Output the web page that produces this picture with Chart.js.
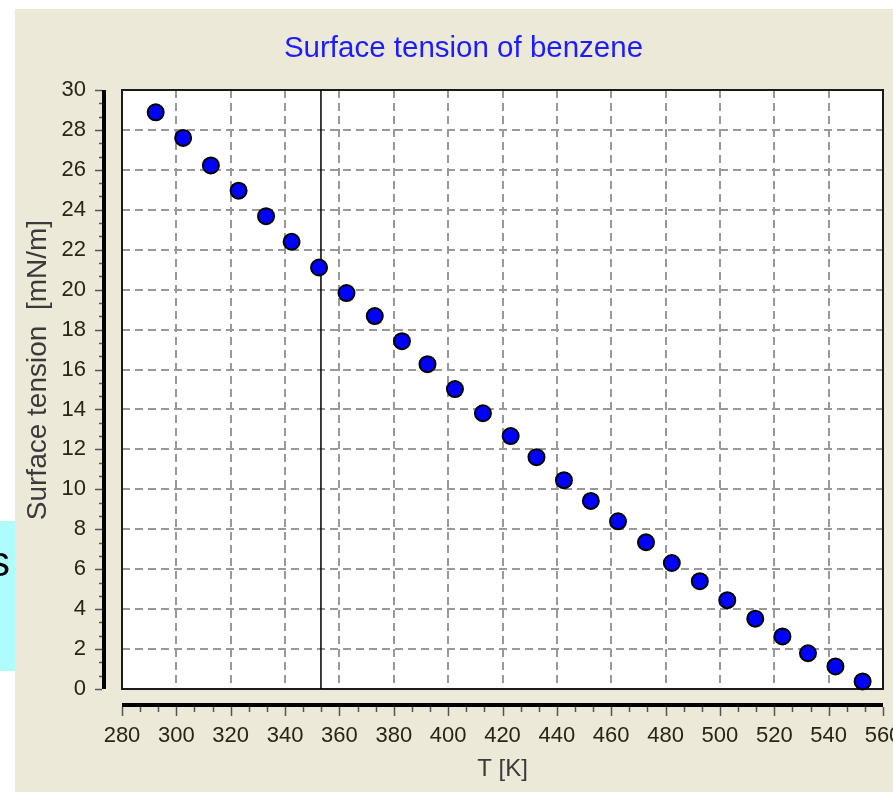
<!DOCTYPE html>
<html lang="en">
<head>
    <meta charset="UTF-8">
    <title>Surface tension of benzene</title>
    <script src="https://cdn.jsdelivr.net/npm/chart.js"></script>
    <style>
        html, body { margin: 0; padding: 0; background: #fff; }
        #chart { display: block; width: 893px; height: 792px; }
    </style>
</head>
<body>
<canvas id="chart" width="893" height="792"></canvas>
<script>
    // values
    const tempK = [292.4, 302.5, 312.7, 322.9, 333.0, 342.4, 352.5, 362.6, 373.0, 383.0, 392.4, 402.5, 412.8, 423.0,
                   432.5, 442.6, 452.5, 462.5, 472.8, 482.3, 492.6, 502.7, 513.0, 523.0, 532.4, 542.5, 552.5];
    const tension = [28.88, 27.60, 26.22, 24.96, 23.68, 22.40, 21.11, 19.83, 18.68, 17.42, 16.27, 15.02, 13.81, 12.67,
                     11.61, 10.46, 9.42, 8.40, 7.35, 6.31, 5.40, 4.45, 3.52, 2.63, 1.79, 1.13, 0.38];
    const boilT = [353.2, 353.2];
    const boilY = [0, 30];
    const xTicks = [280, 560, 20];   // min, max, step
    const yTicks = [0, 30, 2];

    const tickFont = { family: '"Liberation Sans", Arial, sans-serif', size: 22 };

    // frame, separate axis bars with minor ticks, title
    const decor = {
        id: 'decor',
        beforeDraw(chart) {
            const ctx = chart.ctx, a = chart.chartArea;
            ctx.save();
            ctx.fillStyle = '#ffffff';
            ctx.fillRect(0, 0, chart.width, chart.height);
            ctx.fillStyle = '#ece9d8';
            ctx.fillRect(15, 9, chart.width - 15, chart.height - 9);
            ctx.fillStyle = '#aefcfc';
            ctx.fillRect(0, 521, 15, 150);
            ctx.fillStyle = '#000';
            ctx.font = '42px "Liberation Sans", Arial, sans-serif';
            ctx.fillText('s', -11, 576);
            ctx.fillStyle = '#ffffff';
            ctx.fillRect(a.left, a.top, a.right - a.left, a.bottom - a.top);
            ctx.restore();
        },
        beforeDatasetsDraw(chart) {
            const ctx = chart.ctx, a = chart.chartArea;
            ctx.save();
            ctx.strokeStyle = '#1a1a1a';
            ctx.lineWidth = 2;
            ctx.strokeRect(a.left, a.top, a.right - a.left, a.bottom - a.top);
            ctx.restore();
        },
        afterDraw(chart) {
            const ctx = chart.ctx, a = chart.chartArea;
            const xs = chart.scales.x, ys = chart.scales.y;
            ctx.save();
            // y axis bar
            ctx.fillStyle = '#000';
            ctx.fillRect(102, a.top, 4, a.bottom - a.top);
            ctx.strokeStyle = '#555';
            ctx.lineWidth = 1.5;
            for (let v = yTicks[0]; v <= yTicks[1] + 1e-6; v += yTicks[2] / 3) {
                const y = Math.round(ys.getPixelForValue(v)) + 0.5;
                const major = Math.abs(v / yTicks[2] - Math.round(v / yTicks[2])) < 1e-6;
                ctx.beginPath();
                ctx.moveTo(major ? 95 : 99, y);
                ctx.lineTo(102, y);
                ctx.stroke();
            }
            // x axis bar
            ctx.fillRect(a.left, 703, a.right - a.left, 4);
            for (let v = xTicks[0]; v <= xTicks[1] + 1e-6; v += xTicks[2] / 3) {
                const x = Math.round(xs.getPixelForValue(v)) + 0.5;
                const major = Math.abs((v - xTicks[0]) / xTicks[2] - Math.round((v - xTicks[0]) / xTicks[2])) < 1e-6;
                ctx.beginPath();
                ctx.moveTo(x, 707);
                ctx.lineTo(x, major ? 716 : 712);
                ctx.stroke();
            }
            // title
            ctx.fillStyle = '#1c1cff';
            ctx.font = '29.5px "Liberation Sans", Arial, sans-serif';
            ctx.textAlign = 'center';
            ctx.textBaseline = 'alphabetic';
            ctx.fillText('Surface tension of benzene', 463.5, 57);
            ctx.restore();
        }
    };

    new Chart(document.getElementById('chart'), {
        type: 'scatter',
        data: {
            datasets: [{
                label: 'Surface tension',
                data: tempK.map((t, i) => ({ x: t, y: tension[i] })),
                backgroundColor: '#0000ff',
                borderColor: '#000000',
                borderWidth: 2,
                pointRadius: 8,
                pointHoverRadius: 8,
                order: 0
            }, {
                type: 'line',
                label: 'Tb',
                data: boilT.map((t, i) => ({ x: t, y: boilY[i] })),
                borderColor: '#000000',
                borderWidth: 1.5,
                pointRadius: 0,
                fill: false,
                order: 1
            }]
        },
        options: {
            responsive: false,
            animation: false,
            events: [],
            clip: false,
            layout: { padding: { left: 15, right: 10, top: 90, bottom: 0 } },
            plugins: { legend: { display: false }, tooltip: { enabled: false }, title: { display: false } },
            scales: {
                x: {
                    type: 'linear',
                    min: xTicks[0], max: xTicks[1],
                    afterFit(s) { s.height = 103; s.paddingLeft = 0; s.paddingRight = 0; },
                    border: { display: false, dash: [8, 5] },
                    grid: { color: '#999999', lineWidth: 2, drawTicks: false },
                    ticks: { stepSize: xTicks[2], autoSkip: false, maxRotation: 0, padding: 34, color: '#2a2418', font: tickFont },
                    title: {
                        display: true, text: 'T [K]', color: '#3a3a3a',
                        font: { family: '"Liberation Sans", Arial, sans-serif', size: 24 },
                        padding: { top: 0, bottom: 8 }
                    }
                },
                y: {
                    min: yTicks[0], max: yTicks[1],
                    afterFit(s) { s.width = 107; s.paddingTop = 0; s.paddingBottom = 0; },
                    border: { display: false, dash: [8, 5] },
                    grid: { color: '#999999', lineWidth: 2, drawTicks: false },
                    ticks: { stepSize: yTicks[2], autoSkip: false, padding: 36, color: '#2a2418', font: tickFont },
                    title: {
                        display: true, text: '     Surface tension  [mN/m]', color: '#3a3a3a',
                        font: { family: '"Liberation Sans", Arial, sans-serif', size: 28 },
                        padding: { top: 6, bottom: 0 }
                    }
                }
            }
        },
        plugins: [decor]
    });
</script>
</body>
</html>
